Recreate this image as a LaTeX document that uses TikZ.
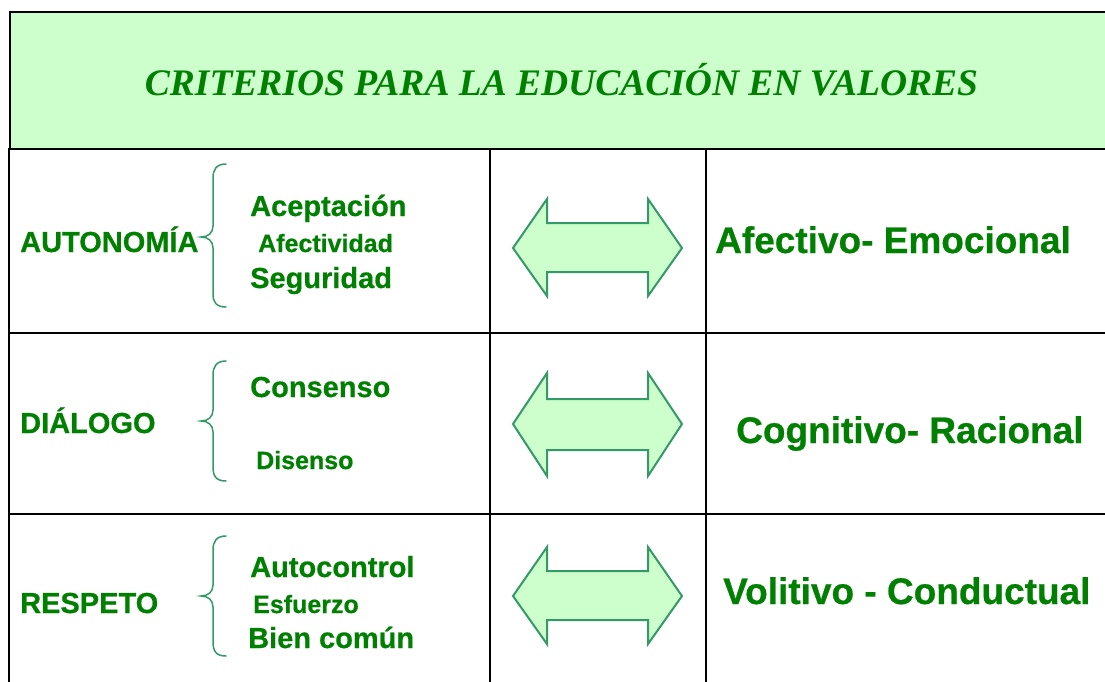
\documentclass[tikz,border=0pt]{standalone}
\usepackage{fontspec}
\setmainfont{Liberation Sans}[BoldFeatures={FakeBold=0.6}]
\newfontfamily\titlefont{Liberation Serif}
\definecolor{txtgreen}{HTML}{008000}
\definecolor{edgegreen}{HTML}{339966}
\definecolor{fillgreen}{HTML}{CCFFCC}
\begin{document}
\begin{tikzpicture}[x=1pt,y=-1pt,
  grid/.style={draw=black,line width=2pt},
  lbl/.style={anchor=base west,inner sep=0pt,text=txtgreen,font=\bfseries\fontsize{29}{29}\selectfont},
  sub/.style={anchor=base west,inner sep=0pt,text=txtgreen,font=\bfseries\fontsize{29}{29}\selectfont},
  subsm/.style={anchor=base west,inner sep=0pt,text=txtgreen,font=\bfseries\fontsize{25}{25}\selectfont},
  big/.style={anchor=base west,inner sep=0pt,text=txtgreen,font=\bfseries\fontsize{37}{37}\selectfont},
  brace/.style={draw=edgegreen,line width=1.5pt,line cap=round},
  dblarrow/.style={draw=edgegreen,fill=fillgreen,line width=2pt,line join=miter}
]
\useasboundingbox (0,0) rectangle (1105,681);
\clip (0,0) rectangle (1105,681);
% header
\fill[white] (0,0) rectangle (1105,681);
\node[grid,fill=fillgreen,rectangle,inner sep=0pt,anchor=north west,
  minimum width=1106pt,minimum height=137pt] (header) at (9,11) {};
\node[anchor=base,inner sep=0pt,text=txtgreen,font=\titlefont\bfseries\itshape\fontsize{37.5}{37.5}\selectfont] (title) at (561.5,95) {CRITERIOS PARA LA EDUCACIÓN EN VALORES};
% grid
\draw[grid] (9,148) -- (9,700);
\draw[grid] (490,148) -- (490,700);
\draw[grid] (706,148) -- (706,700);
\draw[grid] (9,333) -- (1120,333);
\draw[grid] (9,514) -- (1120,514);
% row 1
\node[lbl] (autonomia) at (20,252) {AUTONOMÍA};
\draw[brace] (226,164) .. controls (216,164) and (213,170) .. (213,178) -- (213,226)
  .. controls (213,233) and (208,237) .. (201,237)
  .. controls (208,237) and (213,241) .. (213,248) -- (213,294)
  .. controls (213,302) and (216,307) .. (226,307);
\node[sub] (aceptacion) at (250,216) {Aceptación};
\node[subsm] (afectividad) at (258,252) {Afectividad};
\node[sub] (seguridad) at (250,288) {Seguridad};
\draw[dblarrow] (513,248) -- (547,199) -- (547,223) -- (648,223) -- (648,199) -- (682,248)
  -- (648,296) -- (648,272) -- (547,272) -- (547,296) -- cycle;
\node[big] (afectivo) at (715,253) {Afectivo- Emocional};
% row 2
\node[lbl] (dialogo) at (20,433) {DIÁLOGO};
\draw[brace] (226,361) .. controls (216,361) and (213,367) .. (213,375) -- (213,410)
  .. controls (213,417) and (208,421) .. (201,421)
  .. controls (208,421) and (213,425) .. (213,432) -- (213,467)
  .. controls (213,476) and (216,481) .. (226,481);
\node[sub] (consenso) at (250,397) {Consenso};
\node[subsm] (disenso) at (256,469) {Disenso};
\draw[dblarrow] (513,424) -- (547,373) -- (547,399) -- (648,399) -- (648,373) -- (682,424)
  -- (648,476) -- (648,450) -- (547,450) -- (547,476) -- cycle;
\node[big] (cognitivo) at (736,443) {Cognitivo- Racional};
% row 3
\node[lbl] (respeto) at (20,613) {RESPETO};
\draw[brace] (226,536) .. controls (216,536) and (213,542) .. (213,550) -- (213,585)
  .. controls (213,592) and (208,596) .. (201,596)
  .. controls (208,596) and (213,600) .. (213,607) -- (213,642)
  .. controls (213,651) and (216,656) .. (226,656);
\node[sub] (autocontrol) at (250,577) {Autocontrol};
\node[subsm] (esfuerzo) at (253,613) {Esfuerzo};
\node[sub] (biencomun) at (248,648) {Bien común};
\draw[dblarrow] (513,596) -- (547,547) -- (547,571) -- (648,571) -- (648,547) -- (682,596)
  -- (648,644) -- (648,620) -- (547,620) -- (547,644) -- cycle;
\node[big] (volitivo) at (723,604) {Volitivo - Conductual};
\end{tikzpicture}
\end{document}
